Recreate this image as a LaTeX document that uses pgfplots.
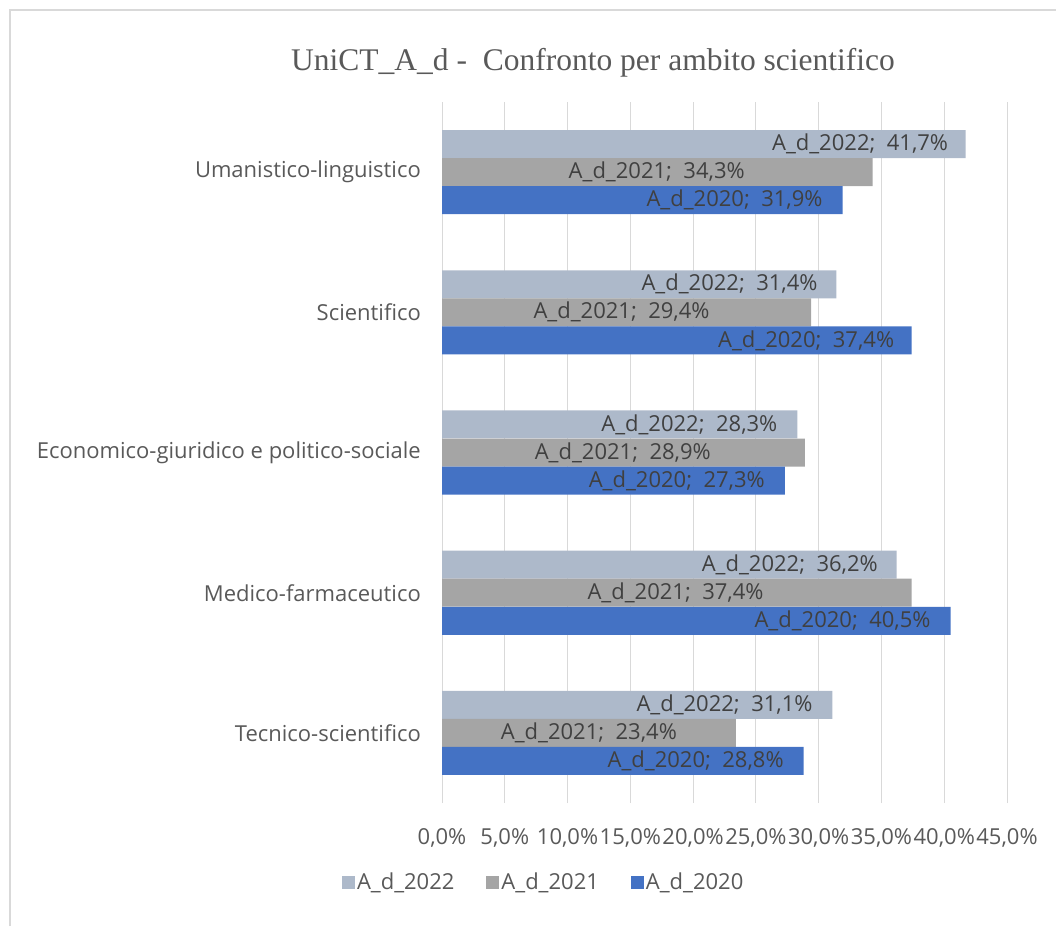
\documentclass[border=0pt]{standalone}
\usepackage{fontspec}
\setmainfont{Open Sans}
\newfontfamily\titlefont{Liberation Serif}
\usepackage{pgfplots}
\pgfplotsset{compat=1.18}
\definecolor{c22}{RGB}{173,185,202}
\definecolor{c21}{RGB}{165,165,165}
\definecolor{c20}{RGB}{68,114,196}
\definecolor{txt}{RGB}{89,89,89}
\definecolor{lbl}{RGB}{64,64,64}
\definecolor{gridc}{RGB}{217,217,217}
\protected\def\lab#1#2{A\_d\_#1;\ \ #2\%}
\begin{document}
\begin{tikzpicture}
\useasboundingbox (0,0) rectangle (1056pt,-926pt);
\draw[gridc, line width=1.5pt] (10pt,-926pt) -- (10pt,-10pt) -- (1056pt,-10pt);
\node[font=\titlefont\fontsize{31.5}{36}\selectfont, text=txt] at (593pt,-63pt) {UniCT\_A\_d -\ \ Confronto per ambito scientifico};
\begin{axis}[
  at={(442pt,-803pt)}, anchor=south west,
  scale only axis, width=565pt, height=701pt,
  xmin=0, xmax=45, ymin=-0.5, ymax=4.5,
  axis line style={draw=none},
  xmajorgrids, grid style={gridc, line width=1pt},
  xtick={0,5,...,45},
  xticklabels={{0,0\%},{5,0\%},{10,0\%},{15,0\%},{20,0\%},{25,0\%},{30,0\%},{35,0\%},{40,0\%},{45,0\%}},
  ytick={0,1,2,3,4},
  yticklabels={Tecnico-scientifico,Medico-farmaceutico,{Economico-giuridico e politico-sociale},Scientifico,Umanistico-linguistico},
  major tick length=0pt,
  tick label style={font=\fontsize{22}{26}\selectfont, text=txt},
  xticklabel style={anchor=center, yshift=-35pt, inner sep=0pt},
  yticklabel style={anchor=east, xshift=-19pt, inner sep=2pt},
  legend style={at={(0.18,-0.113)}, anchor=center, draw=none, legend columns=3,
    font=\fontsize{22}{26}\selectfont, text=txt,
    /tikz/every even column/.style={column sep=30pt}},
  legend image code/.code={\draw[#1,draw=none] (-4pt,-6.5pt) rectangle (9pt,6.5pt);},
  nodes near coords style={anchor=center, font=\fontsize{22}{26}\selectfont, text=lbl},
  lb/.style={draw=none, no markers, forget plot, nodes near coords={#1}},
]
\addplot[xbar, bar width=28pt, bar shift=0pt, fill=c22, draw=none] coordinates {(31.1,0.2) (36.2,1.2) (28.3,2.2) (31.4,3.2) (41.7,4.2)};
\addlegendentry{A\_d\_2022}
\addplot[xbar, bar width=28pt, bar shift=0pt, fill=c21, draw=none] coordinates {(23.4,0) (37.4,1) (28.9,2) (29.4,3) (34.3,4)};
\addlegendentry{A\_d\_2021}
\addplot[xbar, bar width=28pt, bar shift=0pt, fill=c20, draw=none] coordinates {(28.8,-0.2) (40.5,0.8) (27.3,1.8) (37.4,2.8) (31.9,3.8)};
\addlegendentry{A\_d\_2020}
% data labels, placed where they sit in the reference
\addplot[lb={\lab{2022}{31,1}}] coordinates {(22.5,0.2)};
\addplot[lb={\lab{2022}{36,2}}] coordinates {(27.7,1.2)};
\addplot[lb={\lab{2022}{28,3}}] coordinates {(19.7,2.2)};
\addplot[lb={\lab{2022}{31,4}}] coordinates {(22.9,3.2)};
\addplot[lb={\lab{2022}{41,7}}] coordinates {(33.3,4.2)};
\addplot[lb={\lab{2021}{23,4}}] coordinates {(11.7,0)};
\addplot[lb={\lab{2021}{37,4}}] coordinates {(18.6,1)};
\addplot[lb={\lab{2021}{28,9}}] coordinates {(14.4,2)};
\addplot[lb={\lab{2021}{29,4}}] coordinates {(14.3,3)};
\addplot[lb={\lab{2021}{34,3}}] coordinates {(17.1,4)};
\addplot[lb={\lab{2020}{28,8}}] coordinates {(20.2,-0.2)};
\addplot[lb={\lab{2020}{40,5}}] coordinates {(31.9,0.8)};
\addplot[lb={\lab{2020}{27,3}}] coordinates {(18.7,1.8)};
\addplot[lb={\lab{2020}{37,4}}] coordinates {(29.0,2.8)};
\addplot[lb={\lab{2020}{31,9}}] coordinates {(23.3,3.8)};
\end{axis}
\end{tikzpicture}
\end{document}
